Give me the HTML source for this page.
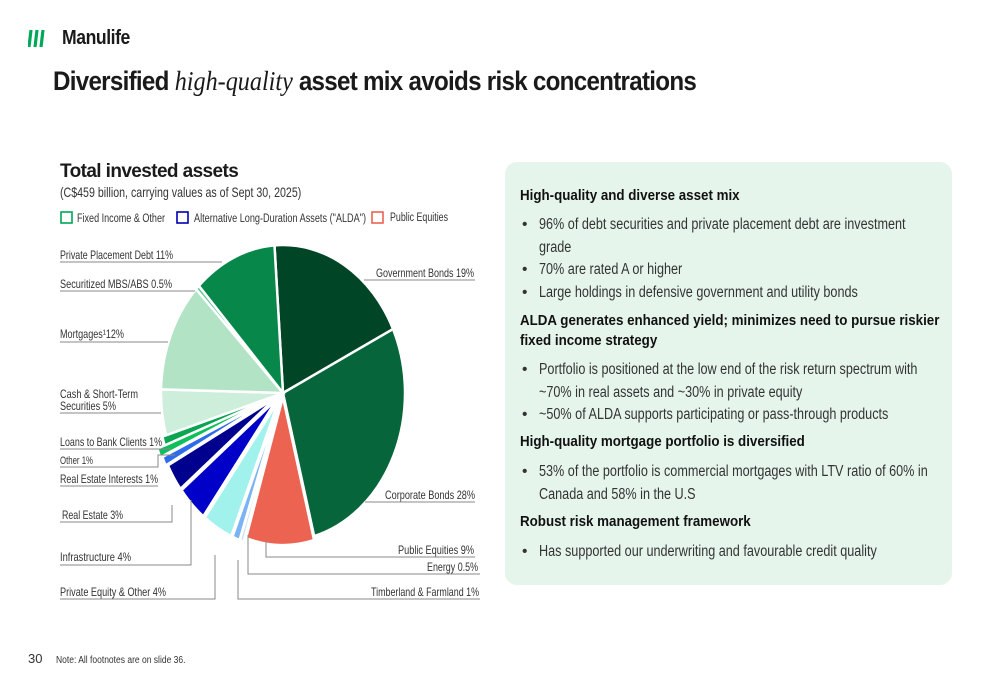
<!DOCTYPE html>
<html><head><meta charset="utf-8">
<style>
body{margin:0;width:1000px;height:685px;background:#fff;font-family:"Liberation Sans",sans-serif;color:#1a1a1a;overflow:hidden;position:relative}
.abs{position:absolute}
.panel{left:505px;top:162px;width:447px;height:423px;background:#e6f5ec;border-radius:12px}
.h{position:absolute;left:15px;font-weight:bold;font-size:15px;line-height:20px;width:540px;white-space:nowrap;transform:scaleX(0.89);transform-origin:0 0;color:#111}
.b{position:absolute;left:17px;font-size:15.5px;line-height:23px;color:#333}
.b .dot{position:absolute;left:0;top:0}
.b .t{position:absolute;left:17px;top:0;width:500px;white-space:nowrap;transform:scaleX(0.815);transform-origin:0 0}
</style></head><body>
<div class="abs" style="left:28px;top:27px">
<svg width="20" height="22"><path d="M3 3 L1 20 M9 3 L7 20 M15 3 L13 20" stroke="#00a758" stroke-width="3.2"/></svg>
<span style="position:absolute;left:34px;top:0px;font-size:20px;font-weight:bold;letter-spacing:-0.5px;transform:scaleX(0.88);transform-origin:0 0">Manulife</span></div>
<div class="abs" style="left:53px;top:66px;font-size:27px;font-weight:bold;letter-spacing:-0.8px;white-space:nowrap;transform:scaleX(0.895);transform-origin:0 0">Diversified <i style="font-family:'Liberation Serif',serif;font-weight:normal;letter-spacing:0">high-quality</i> asset mix avoids risk concentrations</div>
<div class="abs" style="left:60px;top:161px;font-size:19px;font-weight:bold;letter-spacing:-0.6px">Total invested assets</div>
<div class="abs" style="left:60px;top:184px;font-size:14px;color:#333;white-space:nowrap;transform:scaleX(0.76);transform-origin:0 0">(C$459 billion, carrying values as of Sept 30, 2025)</div>
<svg class="abs" style="left:0;top:0" width="500" height="620" id="chart">
<g font-size="11.5" fill="#333" font-family="Liberation Sans, sans-serif">
<rect x="61" y="212" width="11" height="11" fill="none" stroke="#00a758" stroke-width="1.6"/>
<text x="77" y="222" textLength="88" lengthAdjust="spacingAndGlyphs">Fixed Income &amp; Other</text>
<rect x="177" y="212" width="11" height="11" fill="none" stroke="#0000b4" stroke-width="1.6"/>
<text x="194" y="222" textLength="172" lengthAdjust="spacingAndGlyphs">Alternative Long-Duration Assets ("ALDA")</text>
<rect x="372" y="212" width="11" height="11" fill="none" stroke="#ec6352" stroke-width="1.6"/>
<text x="390" y="221" textLength="58" lengthAdjust="spacingAndGlyphs">Public Equities</text>
</g>
<g id="slices"></g>
<g stroke="#888" stroke-width="1" fill="none">
<path d="M60 262H222"/><path d="M60 291H195"/><path d="M60 342H168"/><path d="M60 413H161"/>
<path d="M60 449H171"/><path d="M60 467H158V455H175"/><path d="M60 486H158"/>
<path d="M60 522H172V505"/><path d="M60 565H191V500"/><path d="M60 599H215V555"/>
<path d="M364 280H475"/><path d="M365 502H475"/><path d="M266 540V557H475"/>
<path d="M248 535V574H480"/><path d="M238 560V599H480"/>
</g>
<g font-size="12" fill="#333" font-family="Liberation Sans, sans-serif">
<text x="60" y="259" textLength="113" lengthAdjust="spacingAndGlyphs">Private Placement Debt 11%</text>
<text x="60" y="288" textLength="112" lengthAdjust="spacingAndGlyphs">Securitized MBS/ABS 0.5%</text>
<text x="60" y="338" textLength="64" lengthAdjust="spacingAndGlyphs">Mortgages¹12%</text>
<text x="60" y="398" textLength="78" lengthAdjust="spacingAndGlyphs">Cash &amp; Short-Term</text>
<text x="60" y="410" textLength="56" lengthAdjust="spacingAndGlyphs">Securities 5%</text>
<text x="60" y="446" textLength="102" lengthAdjust="spacingAndGlyphs">Loans to Bank Clients 1%</text>
<text x="60" y="464" font-size="11" textLength="33" lengthAdjust="spacingAndGlyphs">Other 1%</text>
<text x="60" y="483" textLength="98" lengthAdjust="spacingAndGlyphs">Real Estate Interests 1%</text>
<text x="62" y="519" textLength="61" lengthAdjust="spacingAndGlyphs">Real Estate 3%</text>
<text x="60" y="561" textLength="71" lengthAdjust="spacingAndGlyphs">Infrastructure 4%</text>
<text x="60" y="596" textLength="106" lengthAdjust="spacingAndGlyphs">Private Equity &amp; Other 4%</text>
<text x="376" y="277" textLength="98" lengthAdjust="spacingAndGlyphs">Government Bonds 19%</text>
<text x="385" y="499" textLength="90" lengthAdjust="spacingAndGlyphs">Corporate Bonds 28%</text>
<text x="398" y="554" textLength="76" lengthAdjust="spacingAndGlyphs">Public Equities 9%</text>
<text x="427" y="571" textLength="51" lengthAdjust="spacingAndGlyphs">Energy 0.5%</text>
<text x="371" y="596" textLength="108" lengthAdjust="spacingAndGlyphs">Timberland &amp; Farmland 1%</text>
</g>
</svg>
<div class="abs panel">
<div class="h" style="top:24px">High-quality and diverse asset mix</div>
<div class="b" style="top:51px"><span class="dot">•</span><span class="t">96% of debt securities and private placement debt are investment<br>grade</span></div>
<div class="b" style="top:96px"><span class="dot">•</span><span class="t">70% are rated A or higher</span></div>
<div class="b" style="top:119px"><span class="dot">•</span><span class="t">Large holdings in defensive government and utility bonds</span></div>
<div class="h" style="top:149px">ALDA generates enhanced yield; minimizes need to pursue riskier<br>fixed income strategy</div>
<div class="b" style="top:196px"><span class="dot">•</span><span class="t">Portfolio is positioned at the low end of the risk return spectrum with<br>~70% in real assets and ~30% in private equity</span></div>
<div class="b" style="top:241px"><span class="dot">•</span><span class="t">~50% of ALDA supports participating or pass-through products</span></div>
<div class="h" style="top:270px">High-quality mortgage portfolio is diversified</div>
<div class="b" style="top:298px"><span class="dot">•</span><span class="t">53% of the portfolio is commercial mortgages with LTV ratio of 60% in<br>Canada and 58% in the U.S</span></div>
<div class="h" style="top:350px">Robust risk management framework</div>
<div class="b" style="top:378px"><span class="dot">•</span><span class="t">Has supported our underwriting and favourable credit quality</span></div>
</div>
<div class="abs" style="left:28px;top:651px;font-size:13px;color:#333">30</div>
<div class="abs" style="left:56px;top:655px;font-size:10px;color:#333;transform:scaleX(0.85);transform-origin:0 0;white-space:nowrap">Note: All footnotes are on slide 36.</div>
<script>
const categories=["Government Bonds","Corporate Bonds","Public Equities","Energy","Timberland & Farmland","Private Equity & Other","Infrastructure","Real Estate","Real Estate Interests","Other","Loans to Bank Clients","Cash & Short-Term Securities","Mortgages","Securitized MBS/ABS","Private Placement Debt"];
const values=[19,28,9,0.5,1,4,4,3,1,1,1,5,12,0.5,11];
const colors=["#004526","#06653a","#ec6352","#c7e0fb","#7ab4f5","#a1f2ec","#0000c8","#00008f","#2e6ce8","#0ebf5c","#0aa552","#cdeedb","#b2e3c5","#5ac88a","#08874a"];
const explode=[0,0,4,8,8,8,8,8,10,12,4,0,0,0,0];
const cx=283,cy=393,rx=122,ry=148,start=-4;
const g=document.getElementById('slices');
const total=values.reduce((a,b)=>a+b,0);
let acc=0;
function pt(a,dx,dy){const r=a*Math.PI/180;return [cx+dx+rx*Math.sin(r),cy+dy-ry*Math.cos(r)];}
values.forEach((v,i)=>{
  const a0=start+acc/total*360;acc+=v;const a1=start+acc/total*360;
  const mid=(a0+a1)/2*Math.PI/180;const dx=explode[i]*Math.sin(mid),dy=-explode[i]*Math.cos(mid);
  const p0=pt(a0,dx,dy),p1=pt(a1,dx,dy);
  const large=(a1-a0)>180?1:0;
  const p=document.createElementNS('http://www.w3.org/2000/svg','path');
  p.setAttribute('d',`M${cx+dx},${cy+dy}L${p0[0]},${p0[1]}A${rx},${ry} 0 ${large} 1 ${p1[0]},${p1[1]}Z`);
  p.setAttribute('fill',colors[i]);p.setAttribute('stroke','#fff');p.setAttribute('stroke-width','2.5');
  
  
  g.appendChild(p);
});
</script>
</body></html>
